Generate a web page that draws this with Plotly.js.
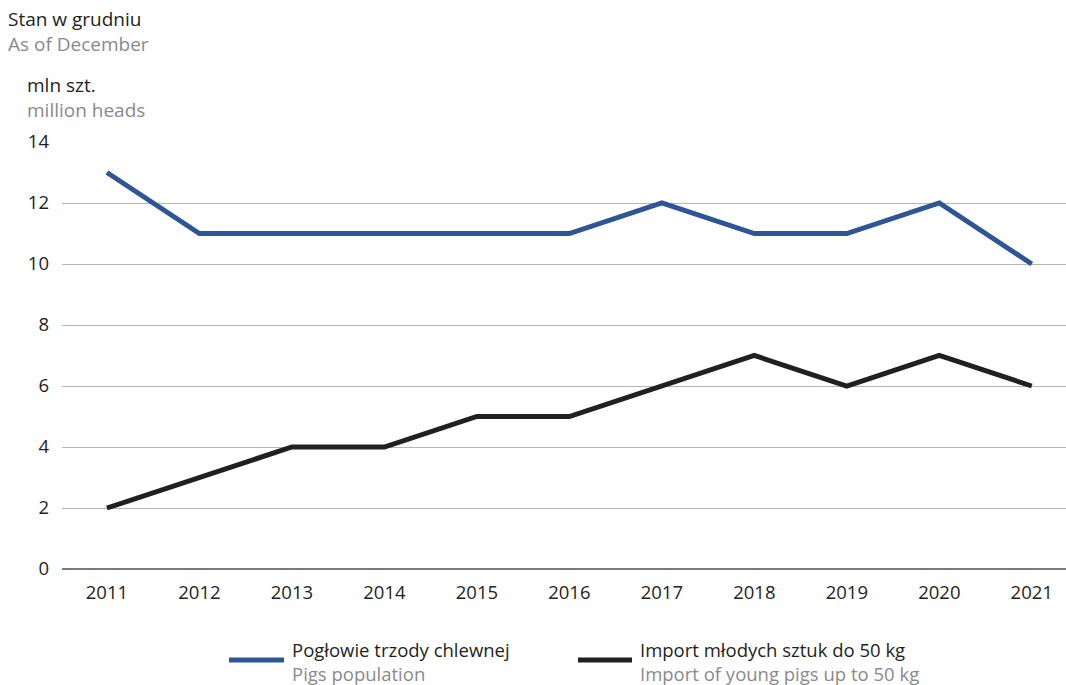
<!DOCTYPE html>
<html>
<head>
<meta charset="utf-8">
<script src="https://cdn.plot.ly/plotly-3.0.1.min.js"></script>
<style>
  html, body { margin: 0; padding: 0; background: #fff; }
  #chart { width: 1066px; height: 685px; }
</style>
</head>
<body>
<div id="chart"></div>
<script>
// Years shown on the category axis
const years = ['2011','2012','2013','2014','2015','2016','2017','2018','2019','2020','2021'];
// Pigs population, million heads (as of December)
const pigsPopulation = [13, 11, 11, 11, 11, 11, 12, 11, 11, 12, 10];
// Import of young pigs up to 50 kg, million heads
const youngPigsImport = [2, 3, 4, 4, 5, 5, 6, 7, 6, 7, 6];
const yTicks = [0, 2, 4, 6, 8, 10, 12, 14];

const FONT = '"Open Sans", "Noto Sans", sans-serif';
const BLUE = '#2E5594';
const BLACK = '#231F20';
const GREY = '#8a8a8a';

const traces = [
  {
    x: years, y: pigsPopulation, type: 'scatter', mode: 'lines',
    name: 'Pogłowie trzody chlewnej',
    line: { color: BLUE, width: 5 }, hoverinfo: 'x+y'
  },
  {
    x: years, y: youngPigsImport, type: 'scatter', mode: 'lines',
    name: 'Import młodych sztuk do 50 kg',
    line: { color: BLACK, width: 5 }, hoverinfo: 'x+y'
  }
];

const W = 1066, H = 685;
const ML = 62, MR = 0, MT = 142, MB = 116;
// pixel position -> paper fraction of the plot area
const pxp = v => (v - ML) / (W - ML - MR);
const pyp = v => 1 - (v - MT) / (H - MT - MB);

// Two-line bilingual label: Polish in black, English below in grey
function label(x, y, pl, en, size) {
  return {
    xref: 'paper', yref: 'paper', x: pxp(x), y: pyp(y),
    xanchor: 'left', yanchor: 'middle', align: 'left', showarrow: false,
    text: pl + '<br><span style="color:' + GREY + '">' + en + '</span>',
    font: { family: FONT, size: size || 19, color: BLACK }
  };
}

const layout = {
  width: W, height: H,
  margin: { l: ML, r: MR, t: MT, b: MB, pad: 0 },
  paper_bgcolor: '#fff', plot_bgcolor: '#fff',
  showlegend: false,
  font: { family: FONT, size: 19, color: BLACK },
  xaxis: {
    type: 'category', range: [-0.486, 10.37],
    showgrid: false, zeroline: false, showline: false,
    ticks: '', ticklabelstandoff: 10,
    tickfont: { family: FONT, size: 18.5, color: BLACK },
    fixedrange: true
  },
  yaxis: {
    range: [0, 14], tickvals: yTicks, ticktext: yTicks.map(String),
    showgrid: true, gridcolor: '#b5b5b5', gridwidth: 1,
    zeroline: true, zerolinecolor: '#7a7a7a', zerolinewidth: 1.5,
    showline: false, ticks: '', ticklabelstandoff: 12,
    tickfont: { family: FONT, size: 18.5, color: BLACK },
    fixedrange: true
  },
  annotations: [
    label(6, 32, 'Stan w grudniu', 'As of December'),
    label(25, 97, 'mln szt.', 'million heads'),
    label(290, 661, 'Pogłowie trzody chlewnej', 'Pigs population', 18.5),
    label(638, 661, 'Import młodych sztuk do 50 kg', 'Import of young pigs up to 50 kg', 18.5)
  ],
  shapes: [
    { type: 'line', xref: 'paper', yref: 'paper',
      x0: pxp(229), x1: pxp(284), y0: pyp(660), y1: pyp(660),
      line: { color: BLUE, width: 5 } },
    { type: 'line', xref: 'paper', yref: 'paper',
      x0: pxp(578), x1: pxp(632), y0: pyp(660), y1: pyp(660),
      line: { color: BLACK, width: 5 } }
  ]
};

Plotly.newPlot('chart', traces, layout, { displayModeBar: false, staticPlot: true });
</script>
</body>
</html>
